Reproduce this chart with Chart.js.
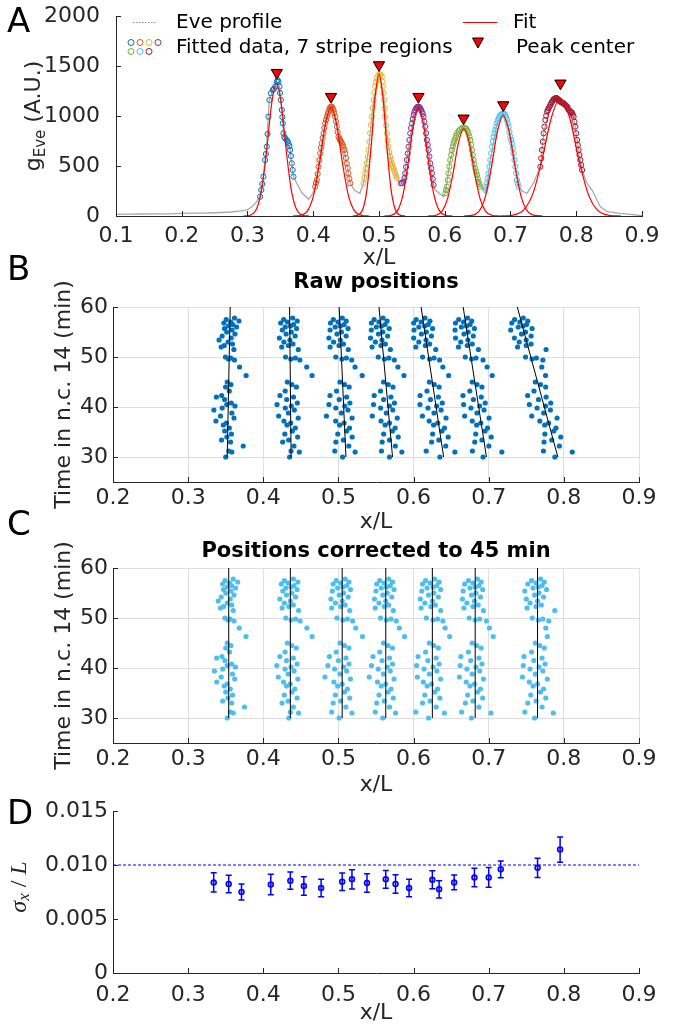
<!DOCTYPE html>
<html>
<head>
<meta charset="utf-8">
<title>Eve stripe positions</title>
<script src="https://cdn.jsdelivr.net/npm/chart.js@4.4.1/dist/chart.umd.min.js"></script>
<style>
  body { margin: 0; background: #fff; }
  #page { position: relative; width: 676px; height: 1031px; overflow: hidden; }
  canvas { position: absolute; left: 0; }
  .letter { position: absolute; font-family: 'DejaVu Sans', sans-serif; font-size: 34px; line-height: 34px; color: #000; }
</style>
</head>
<body>
<div id="page">
  <canvas id="chartA" width="676" height="271" style="top:0px"></canvas>
  <canvas id="chartB" width="676" height="264" style="top:271px"></canvas>
  <canvas id="chartC" width="676" height="263" style="top:535px"></canvas>
  <canvas id="chartD" width="676" height="231" style="top:795px"></canvas>
  <div class="letter" style="left:7px;top:3px">A</div>
  <div class="letter" style="left:7px;top:251px">B</div>
  <div class="letter" style="left:7px;top:506px">C</div>
  <div class="letter" style="left:7px;top:795px">D</div>
</div>
<script>
// ---- panel A: Eve profile (x/L, A.U.) ----
var profile = [
  [0.100, 17], [0.120, 18], [0.140, 20], [0.160, 22], [0.180, 22], [0.200, 27], [0.220, 28], [0.240, 30],
  [0.260, 35], [0.275, 40], [0.290, 52], [0.299, 62], [0.307, 92], [0.314, 143], [0.319, 193], [0.324, 393],
  [0.329, 693], [0.333, 1160], [0.3385, 1260], [0.3446, 1343], [0.3486, 1293], [0.3522, 1060], [0.3547, 827],
  [0.3598, 760], [0.3648, 660], [0.3699, 393], [0.375, 327], [0.383, 230], [0.393, 167], [0.399, 220],
  [0.4029, 293], [0.4105, 627], [0.4181, 927], [0.4257, 1087], [0.4283, 1093], [0.4333, 993], [0.4384, 793],
  [0.446, 693], [0.4511, 527], [0.4562, 327], [0.463, 255], [0.471, 227], [0.4764, 327], [0.4841, 660],
  [0.4917, 1160], [0.5008, 1420], [0.5079, 1160], [0.512, 827], [0.517, 593], [0.5247, 427], [0.530, 350],
  [0.5373, 343], [0.545, 693], [0.5526, 1010], [0.5601, 1093], [0.5677, 993], [0.5753, 660], [0.583, 310],
  [0.5855, 260], [0.598, 193], [0.6008, 227], [0.6084, 560], [0.6186, 827], [0.6286, 883], [0.6362, 827],
  [0.6438, 560], [0.649, 410], [0.654, 293], [0.663, 243], [0.6693, 560], [0.6795, 927], [0.6886, 1027],
  [0.6971, 893], [0.7047, 627], [0.7123, 293], [0.718, 250], [0.725, 227], [0.735, 330], [0.7454, 493],
  [0.7504, 827], [0.7606, 1110], [0.7708, 1177], [0.786, 1093], [0.796, 993], [0.8036, 660], [0.8088, 460],
  [0.8164, 327], [0.824, 260], [0.8316, 160], [0.8367, 93], [0.847, 43], [0.867, 27], [0.8824, 17], [0.900, 3]
];

var fitted1 = [
  [0.3192,193],[0.3210,260],[0.3225,320],[0.3242,393],[0.3268,560],[0.3280,620],[0.3293,693],[0.3305,820],
  [0.3318,993],[0.3333,1160],[0.3355,1227],[0.3385,1260],[0.3400,1270],[0.3420,1293],[0.3446,1343],[0.3458,1360],
  [0.3470,1343],[0.3486,1293],[0.3495,1230],[0.3507,1160],[0.3522,1060],[0.3530,990],[0.3537,927],[0.3547,827],
  [0.3560,790],[0.3572,777],[0.3598,760],[0.3610,745],[0.3623,727],[0.3636,700],[0.3648,660],[0.3660,600],
  [0.3674,527],[0.3687,460],[0.3699,393]
];
var fitted2 = [
  [0.4029,293],[0.4054,360],[0.4080,493],[0.4105,627],[0.4130,727],[0.4156,827],[0.4181,927],[0.4207,993],
  [0.4232,1043],[0.4257,1087],[0.4283,1093],[0.4308,1060],[0.4333,993],[0.4359,893],[0.4384,793],[0.4409,760],
  [0.4435,727],[0.4460,693],[0.4486,627],[0.4511,527],[0.4536,427],[0.4562,327],
  [0.4042,330],[0.4067,420],[0.4092,560],[0.4118,680],[0.4143,780],[0.4168,880],[0.4194,960],[0.4220,1020],
  [0.4245,1070],[0.4270,1092],[0.4296,1080],[0.4320,1030],[0.4346,945],[0.4371,840],[0.4397,775],[0.4422,745],
  [0.4448,710],[0.4473,660],[0.4498,580],[0.4524,480],[0.4549,375]
];
var fitted3 = [
  [0.4764,327],[0.4790,427],[0.4816,527],[0.4841,660],[0.4866,827],[0.4892,993],[0.4917,1160],[0.4942,1293],
  [0.4968,1377],[0.5008,1420],[0.5044,1393],[0.5059,1293],[0.5079,1160],[0.5094,993],[0.5120,827],[0.5145,693],
  [0.5170,593],[0.5196,527],[0.5221,477],[0.5247,427],[0.5272,377],
  [0.4777,380],[0.4803,475],[0.4828,590],[0.4854,740],[0.4879,910],[0.4904,1080],[0.4930,1230],[0.4955,1340],
  [0.4988,1405],[0.5026,1412],[0.5052,1345],[0.5069,1230],[0.5087,1075],[0.5107,905],[0.5132,755],[0.5158,640],
  [0.5183,558],[0.5208,500],[0.5234,452],[0.5260,400]
];
var fitted4 = [
  [0.5333,327],[0.5373,343],[0.5399,427],[0.5425,560],[0.5450,693],[0.5475,827],[0.5501,927],[0.5526,1010],
  [0.5551,1060],[0.5577,1087],[0.5601,1093],[0.5627,1077],[0.5653,1043],[0.5677,993],[0.5703,893],[0.5729,760],
  [0.5753,660],[0.5779,527],[0.5805,427],[0.5830,310],
  [0.5353,330],[0.5386,380],[0.5412,490],[0.5438,625],[0.5463,760],[0.5488,880],[0.5514,970],[0.5539,1038],
  [0.5564,1075],[0.5589,1092],[0.5614,1088],[0.5640,1062],[0.5665,1020],[0.5690,945],[0.5716,828],[0.5741,710],
  [0.5766,595],[0.5792,477],[0.5818,370]
];
var fitted5 = [
  [0.6008,227],[0.6033,293],[0.6058,427],[0.6084,560],[0.6110,660],[0.6134,727],[0.6160,777],[0.6186,827],
  [0.6236,867],[0.6286,883],[0.6327,873],[0.6362,827],[0.6388,760],[0.6414,660],[0.6438,560],[0.6464,477],
  [0.6490,410],[0.6514,343],[0.6540,293],
  [0.6020,260],[0.6046,360],[0.6071,495],[0.6097,612],[0.6122,695],[0.6147,752],[0.6173,802],[0.6211,850],
  [0.6261,878],[0.6306,880],[0.6345,852],[0.6375,795],[0.6401,712],[0.6426,610],[0.6451,518],[0.6477,443],
  [0.6502,376],[0.6527,318]
];
var fitted6 = [
  [0.6616,260],[0.6642,327],[0.6667,427],[0.6693,560],[0.6718,693],[0.6743,793],[0.6769,860],[0.6795,927],
  [0.6819,977],[0.6845,1010],[0.6886,1027],[0.6921,1010],[0.6947,960],[0.6971,893],[0.6997,793],[0.7023,727],
  [0.7047,627],[0.7073,493],[0.7098,360],[0.7123,293],
  [0.6629,293],[0.6655,377],[0.6680,493],[0.6706,627],[0.6731,745],[0.6756,827],[0.6782,893],[0.6807,952],
  [0.6832,995],[0.6865,1020],[0.6904,1022],[0.6934,987],[0.6959,928],[0.6984,843],[0.7010,760],[0.7035,677],
  [0.7060,560],[0.7086,427],[0.7110,326]
];
var fitted7 = [
  [0.7454,493],[0.7479,660],[0.7504,827],[0.7530,960],[0.7556,1043],[0.7580,1077],[0.7606,1110],[0.7632,1143],
  [0.7656,1167],[0.7682,1177],[0.7708,1177],[0.7732,1160],[0.7758,1143],[0.7784,1133],[0.7808,1127],[0.7834,1110],
  [0.7860,1093],[0.7885,1060],[0.7910,1043],[0.7936,1033],[0.7960,993],[0.7986,893],[0.8012,760],[0.8036,660],
  [0.8062,560],[0.8088,460],
  [0.7466,577],[0.7492,743],[0.7517,893],[0.7543,1002],[0.7568,1060],[0.7593,1093],[0.7619,1127],[0.7644,1155],
  [0.7669,1172],[0.7695,1180],[0.7720,1168],[0.7745,1150],[0.7771,1138],[0.7796,1130],[0.7821,1118],[0.7847,1102],
  [0.7872,1077],[0.7898,1052],[0.7923,1038],[0.7948,1013],[0.7973,943],[0.7999,827],[0.8024,710],[0.8049,610],
  [0.8075,510]
];

// red fit curves
var fitCurve1 = [[0.294,0],[0.304,8],[0.314,74],[0.3215,263],[0.329,648],[0.3365,1111],[0.344,1330],[0.3515,1111],[0.359,648],[0.3665,263],[0.374,74],[0.384,8],[0.394,0]];
var fitCurve2 = [[0.369,0],[0.3806,7],[0.3922,61],[0.4009,216],[0.4096,531],[0.4183,910],[0.427,1090],[0.4357,910],[0.4444,531],[0.4531,216],[0.4618,61],[0.4734,7],[0.485,0]];
var fitCurve3 = [[0.460,0],[0.468,9],[0.476,80],[0.482,281],[0.488,692],[0.494,1186],[0.500,1420],[0.506,1186],[0.512,692],[0.518,281],[0.524,80],[0.532,9],[0.540,0]];
var fitCurve4 = [[0.508,0],[0.5184,7],[0.5288,61],[0.5366,216],[0.5444,531],[0.5522,910],[0.560,1090],[0.5678,910],[0.5756,531],[0.5834,216],[0.5912,61],[0.6016,7],[0.612,0]];
var fitCurve5 = [[0.5742,0],[0.5852,5],[0.5961,49],[0.6043,173],[0.6126,426],[0.6208,731],[0.629,875],[0.6372,731],[0.6454,426],[0.6537,173],[0.6619,49],[0.6728,5],[0.6838,0]];
var fitCurve6 = [[0.629,0],[0.641,6],[0.653,56],[0.662,199],[0.671,489],[0.680,839],[0.689,1005],[0.698,839],[0.707,489],[0.716,199],[0.725,56],[0.737,6],[0.749,0]];
var fitCurve7 = [[0.684,0],[0.7024,7],[0.7208,66],[0.7346,234],[0.7484,575],[0.7622,985],[0.776,1180],[0.7898,985],[0.8036,575],[0.8174,234],[0.8312,66],[0.8496,7],[0.868,0]];

var peakX = [0.3446, 0.427, 0.500, 0.560, 0.6286, 0.689, 0.776];
var peakMarkY = [1433, 1193, 1510, 1193, 977, 1110, 1327];

var stripeColors = ['#0072BD', '#D95319', '#EDB120', '#7E2F8E', '#77AC30', '#4DBEEE', '#A2142F'];

// ---- panels B and C: stripe positions per embryo time ----
var embryoTimes = [57.8, 57.5, 57.2, 57.0, 56.8, 56.5, 56.2, 56.0, 55.7, 55.4, 55.0, 54.6, 54.2, 53.8, 53.4, 53.0, 52.6, 52.3,
  52.0, 51.5, 50.0, 49.8, 49.6, 49.4, 48.0, 46.3, 45.0, 44.5, 44.0, 43.2, 42.3, 42.0, 41.5, 40.8, 40.5, 40.2, 39.8, 39.4,
  38.8, 38.2, 37.8, 37.2, 36.8, 36.4, 35.8, 35.2, 34.6, 34.0, 33.4, 33.0, 32.2, 31.2, 31.0, 30.0];

// positions corrected to 45 min (panel C)
var stripe1Pos = [0.360,0.349,0.366,0.355,0.346,0.358,0.352,0.363,0.347,0.357,0.350,0.361,0.344,0.356,0.340,0.352,0.358,0.347,0.343,0.360,0.349,0.356,0.353,0.361,0.368,0.377,0.352,0.357,0.350,0.355,0.345,0.338,0.349,0.358,0.352,0.363,0.346,0.335,0.359,0.344,0.362,0.338,0.352,0.348,0.356,0.350,0.359,0.353,0.346,0.358,0.375,0.356,0.360,0.352];
var stripe2Pos = [0.440,0.428,0.446,0.433,0.424,0.441,0.437,0.430,0.445,0.426,0.438,0.431,0.443,0.422,0.436,0.428,0.440,0.434,0.425,0.447,0.430,0.443,0.437,0.449,0.458,0.465,0.432,0.438,0.444,0.429,0.422,0.440,0.431,0.445,0.418,0.437,0.429,0.441,0.433,0.420,0.446,0.427,0.436,0.431,0.442,0.438,0.428,0.445,0.433,0.425,0.440,0.436,0.447,0.434];
var stripe3Pos = [0.509,0.497,0.514,0.503,0.493,0.511,0.506,0.499,0.516,0.492,0.507,0.501,0.513,0.490,0.505,0.496,0.509,0.503,0.491,0.515,0.498,0.512,0.506,0.519,0.523,0.532,0.502,0.508,0.514,0.497,0.488,0.510,0.500,0.514,0.486,0.507,0.495,0.511,0.502,0.482,0.516,0.494,0.505,0.499,0.512,0.508,0.496,0.515,0.503,0.493,0.510,0.491,0.518,0.501];
var stripe4Pos = [0.567,0.555,0.572,0.561,0.551,0.569,0.564,0.557,0.574,0.550,0.565,0.559,0.571,0.548,0.563,0.554,0.567,0.561,0.549,0.573,0.556,0.570,0.564,0.577,0.581,0.588,0.560,0.566,0.572,0.555,0.546,0.568,0.558,0.572,0.544,0.565,0.553,0.569,0.560,0.541,0.574,0.552,0.563,0.557,0.570,0.566,0.554,0.573,0.561,0.551,0.568,0.549,0.576,0.559];
var stripe5Pos = [0.628,0.616,0.634,0.622,0.612,0.631,0.626,0.618,0.636,0.611,0.627,0.620,0.633,0.609,0.625,0.615,0.629,0.623,0.610,0.636,0.617,0.632,0.626,0.639,0.642,0.648,0.621,0.627,0.633,0.616,0.606,0.630,0.619,0.634,0.604,0.626,0.614,0.631,0.621,0.605,0.636,0.613,0.624,0.618,0.632,0.628,0.615,0.635,0.622,0.612,0.630,0.603,0.641,0.620];
var stripe6Pos = [0.685,0.673,0.690,0.679,0.668,0.687,0.682,0.675,0.692,0.666,0.683,0.677,0.689,0.665,0.681,0.671,0.686,0.679,0.667,0.693,0.674,0.688,0.682,0.697,0.701,0.706,0.678,0.684,0.690,0.673,0.663,0.687,0.676,0.691,0.662,0.683,0.671,0.688,0.678,0.661,0.693,0.670,0.681,0.675,0.689,0.685,0.672,0.692,0.679,0.669,0.687,0.664,0.703,0.677];
var stripe7Pos = [0.769,0.757,0.774,0.763,0.752,0.771,0.766,0.759,0.777,0.748,0.767,0.761,0.773,0.750,0.765,0.755,0.770,0.763,0.751,0.788,0.758,0.772,0.766,0.780,0.776,0.778,0.762,0.768,0.774,0.757,0.747,0.771,0.760,0.775,0.746,0.767,0.755,0.772,0.762,0.745,0.778,0.754,0.765,0.759,0.773,0.769,0.756,0.776,0.763,0.752,0.771,0.748,0.786,0.761];

// fitted drift lines in panel B (x/L at t = 60 and t = 30), and stripe centres at 45 min
var lineAt60 = [0.356, 0.435, 0.501, 0.554, 0.610, 0.666, 0.738];
var lineAt30 = [0.352, 0.437, 0.510, 0.572, 0.640, 0.697, 0.792];
var centreAt45 = [0.354, 0.436, 0.505, 0.563, 0.625, 0.682, 0.765];

// ---- panel D: positional error sigma_x / L ----
var sigmaX = [0.334, 0.354, 0.371, 0.410, 0.436, 0.454, 0.477, 0.505, 0.518, 0.538, 0.563, 0.576, 0.594, 0.625, 0.634, 0.654, 0.681, 0.700, 0.716, 0.765, 0.795];
var sigmaY = [0.00839, 0.00824, 0.00750, 0.00820, 0.00855, 0.00805, 0.00787, 0.00845, 0.00867, 0.00833, 0.00867, 0.00824, 0.00787, 0.00864, 0.00775, 0.00839, 0.00885, 0.00885, 0.00960, 0.00974, 0.01143];
var sigmaErr = [0.00089, 0.00080, 0.00074, 0.00095, 0.00080, 0.00086, 0.00080, 0.00080, 0.00089, 0.00086, 0.00083, 0.00086, 0.00080, 0.00083, 0.00080, 0.00068, 0.00086, 0.00092, 0.00077, 0.00089, 0.00117];
var sigmaRef = 0.01;

var AXIS_COLOR = '#262626';
Chart.defaults.font.family = "'DejaVu Sans', sans-serif";
Chart.defaults.color = AXIS_COLOR;
Chart.defaults.animation = false;

function pts(pairs) {
    return pairs.map(function (p) { return { x: p[0], y: p[1] }; });
}

// fixed box sizes so every plot area lands where it does in the figure;
// the label gap is an invisible tick so it does not push the plot area down
function axis(o) {
    return {
        type: 'linear',
        min: o.min, max: o.max,
        afterFit: function (scale) {
            if (scale.isHorizontal()) scale.height = o.box; else scale.width = o.box;
        },
        ticks: {
            stepSize: o.step, includeBounds: false, padding: 0,
            font: { size: 22 }, color: AXIS_COLOR,
            maxRotation: 0, autoSkip: false,
            callback: o.fmt
        },
        grid: {
            display: true, drawTicks: true, tickLength: o.pad, tickColor: 'rgba(0,0,0,0)',
            drawOnChartArea: !!o.grid, color: '#dedede', lineWidth: 1
        },
        border: { display: true, color: AXIS_COLOR, width: 1 },
        title: o.title ? { display: true, text: o.title, font: { size: 22 }, color: AXIS_COLOR, padding: o.titlePad || 0 } : { display: false }
    };
}

var inwardTicks = {
    id: 'inwardTicks',
    afterDatasetsDraw: function (chart) {
        var ctx = chart.ctx, a = chart.chartArea;
        var xs = chart.scales.x, ys = chart.scales.y;
        ctx.save();
        ctx.strokeStyle = AXIS_COLOR;
        ctx.lineWidth = 1;
        ctx.beginPath();
        xs.ticks.forEach(function (t) {
            var p = Math.round(xs.getPixelForValue(t.value)) + 0.5;
            ctx.moveTo(p, a.bottom); ctx.lineTo(p, a.bottom - 5);
        });
        ys.ticks.forEach(function (t) {
            var p = Math.round(ys.getPixelForValue(t.value)) + 0.5;
            ctx.moveTo(a.left, p); ctx.lineTo(a.left + 5, p);
        });
        ctx.stroke();
        ctx.restore();
    }
};

function titlePlugin(text, y) {
    return {
        id: 'panelTitle',
        afterDraw: function (chart) {
            var ctx = chart.ctx, a = chart.chartArea;
            ctx.save();
            ctx.font = "bold 21px 'DejaVu Sans'";
            ctx.fillStyle = '#000';
            ctx.textAlign = 'center';
            ctx.textBaseline = 'middle';
            ctx.fillText(text, (a.left + a.right) / 2, y);
            ctx.restore();
        }
    };
}

var baseOptions = function (pad, scales) {
    return {
        responsive: false,
        events: [],
        layout: { padding: pad },
        plugins: { legend: { display: false }, tooltip: { enabled: false } },
        scales: scales
    };
};

// ---------- A ----------
var fittedSets = [fitted1, fitted2, fitted3, fitted4, fitted5, fitted6, fitted7];
var fitCurves = [fitCurve1, fitCurve2, fitCurve3, fitCurve4, fitCurve5, fitCurve6, fitCurve7];

var datasetsA = [{
    data: pts(profile), showLine: true, borderColor: '#a8a8a8', borderWidth: 1.3,
    pointRadius: 0, order: 4
}];
fittedSets.forEach(function (d, k) {
    datasetsA.push({
        data: pts(d), showLine: false, pointStyle: 'circle', pointRadius: 2.6,
        borderWidth: 1, borderColor: stripeColors[k], backgroundColor: 'rgba(0,0,0,0)', order: 3
    });
});
fitCurves.forEach(function (d) {
    datasetsA.push({
        data: pts(d), showLine: true, borderColor: '#ff0000', borderWidth: 1.2,
        pointRadius: 0, cubicInterpolationMode: 'monotone', order: 2
    });
});
datasetsA.push({
    data: peakX.map(function (x, i) { return { x: x, y: peakMarkY[i] }; }),
    showLine: false, pointStyle: 'triangle', rotation: 180, pointRadius: 6.5,
    backgroundColor: '#ff0000', borderColor: '#000', borderWidth: 1, order: 1
});

var panelAText = {
    id: 'panelAText',
    afterDraw: function (chart) {
        var ctx = chart.ctx, a = chart.chartArea;
        // y label g_Eve (A.U.)
        ctx.save();
        ctx.translate(34, (a.top + a.bottom) / 2);
        ctx.rotate(-Math.PI / 2);
        ctx.fillStyle = AXIS_COLOR;
        ctx.textBaseline = 'middle';
        var big = "22px 'DejaVu Sans'", small = "15px 'DejaVu Sans'";
        ctx.font = big;
        var wg = ctx.measureText('g').width, wr = ctx.measureText(' (A.U.)').width;
        ctx.font = small;
        var ws = ctx.measureText('Eve').width;
        var x0 = -(wg + ws + wr) / 2;
        ctx.font = big; ctx.fillText('g', x0, 0);
        ctx.font = small; ctx.fillText('Eve', x0 + wg, 7);
        ctx.font = big; ctx.fillText(' (A.U.)', x0 + wg + ws, 0);
        ctx.restore();

        // legend
        ctx.save();
        ctx.font = "20px 'DejaVu Sans'";
        ctx.fillStyle = '#000';
        ctx.textBaseline = 'middle';
        ctx.fillText('Eve profile', 176, 23);
        ctx.fillText('Fitted data, 7 stripe regions', 176, 48);
        ctx.fillText('Fit', 513, 23);
        ctx.fillText('Peak center', 516, 48);

        ctx.strokeStyle = '#8c8c8c';
        ctx.lineWidth = 1;
        ctx.setLineDash([1.5, 1.5]);
        ctx.beginPath(); ctx.moveTo(133, 22.5); ctx.lineTo(156, 22.5); ctx.stroke();
        ctx.setLineDash([]);
        ctx.strokeStyle = '#ff0000';
        ctx.lineWidth = 1.2;
        ctx.beginPath(); ctx.moveTo(463, 22.5); ctx.lineTo(497, 22.5); ctx.stroke();

        var icon = [[131, 42.5], [140, 42.5], [149, 42.5], [158, 42.5], [131, 51.5], [140, 51.5], [149, 51.5]];
        ctx.lineWidth = 1;
        icon.forEach(function (p, k) {
            ctx.strokeStyle = stripeColors[k];
            ctx.beginPath(); ctx.arc(p[0], p[1], 3, 0, Math.PI * 2); ctx.stroke();
        });

        ctx.fillStyle = '#ff0000';
        ctx.strokeStyle = '#000';
        ctx.beginPath();
        ctx.moveTo(472.5, 38); ctx.lineTo(483.5, 38); ctx.lineTo(478, 48); ctx.closePath();
        ctx.fill(); ctx.stroke();
        ctx.restore();
    }
};

new Chart('chartA', {
    type: 'scatter',
    data: { datasets: datasetsA },
    options: baseOptions({ top: 16, right: 34, left: 0, bottom: 0 }, {
        x: axis({ min: 0.1, max: 0.9, step: 0.1, box: 55, pad: 7, fmt: function (v) { return v.toFixed(1); }, title: 'x/L' }),
        y: axis({ min: 0, max: 2000, step: 500, box: 116, pad: 16, fmt: function (v) { return String(v); } })
    }),
    plugins: [inwardTicks, panelAText]
});

// ---------- B and C ----------
var stripePositions = [stripe1Pos, stripe2Pos, stripe3Pos, stripe4Pos, stripe5Pos, stripe6Pos, stripe7Pos];
// drift of each stripe (x/L per minute), from the fitted lines of panel B
var stripeDrift = lineAt60.map(function (v, k) { return (v - lineAt30[k]) / 30; });

function stripeCharts(id, raw, color, titleText, titleY, pad, xBox) {
    var ds = [];
    stripePositions.forEach(function (pos, k) {
        ds.push({
            data: pos.map(function (x, i) {
                var t = embryoTimes[i];
                return { x: raw ? x + stripeDrift[k] * (t - 45) : x, y: t };
            }),
            showLine: false, pointRadius: 2.6, borderWidth: 0,
            backgroundColor: color, order: 2
        });
        ds.push({
            data: raw ? [{ x: lineAt30[k], y: 30 }, { x: lineAt60[k], y: 60 }]
                      : [{ x: centreAt45[k], y: 30 }, { x: centreAt45[k], y: 60 }],
            showLine: true, borderColor: '#000', borderWidth: 1, pointRadius: 0, order: 1
        });
    });
    new Chart(id, {
        type: 'scatter',
        data: { datasets: ds },
        options: baseOptions(pad, {
            x: axis({ min: 0.2, max: 0.9, step: 0.1, box: xBox, pad: 3.5, grid: true, fmt: function (v) { return v.toFixed(1); }, title: 'x/L' }),
            y: axis({ min: 25, max: 60, step: 10, box: 113, pad: 5, grid: true, fmt: function (v) { return String(v); },
                      title: 'Time in n.c. 14 (min)', titlePad: { top: 51, bottom: 0 } })
        }),
        plugins: [inwardTicks, titlePlugin(titleText, titleY)]
    });
}

stripeCharts('chartB', true, '#0072BD', 'Raw positions', 12, { top: 36, right: 37, left: 0, bottom: 0 }, 53);
stripeCharts('chartC', false, '#4DBEEE', 'Positions corrected to 45 min', 17, { top: 33, right: 37, left: 0, bottom: 0 }, 55);

// ---------- D ----------
var errorBars = {
    id: 'errorBars',
    afterDatasetsDraw: function (chart) {
        var ctx = chart.ctx, xs = chart.scales.x, ys = chart.scales.y;
        ctx.save();
        ctx.strokeStyle = '#0000ff';
        ctx.lineWidth = 1.5;
        sigmaX.forEach(function (xv, i) {
            var px = xs.getPixelForValue(xv);
            var top = ys.getPixelForValue(sigmaY[i] + sigmaErr[i]);
            var bot = ys.getPixelForValue(sigmaY[i] - sigmaErr[i]);
            ctx.beginPath();
            ctx.moveTo(px, top); ctx.lineTo(px, bot);
            ctx.moveTo(px - 3, top); ctx.lineTo(px + 3, top);
            ctx.moveTo(px - 3, bot); ctx.lineTo(px + 3, bot);
            ctx.stroke();
        });
        ctx.restore();
    }
};

var panelDText = {
    id: 'panelDText',
    afterDraw: function (chart) {
        var ctx = chart.ctx, a = chart.chartArea;
        ctx.save();
        ctx.translate(20, (a.top + a.bottom) / 2 - 5);
        ctx.rotate(-Math.PI / 2);
        ctx.fillStyle = AXIS_COLOR;
        ctx.textBaseline = 'middle';
        var it = "italic 24px 'Liberation Serif'", sub = "italic 17px 'Liberation Serif'", up = "24px 'Liberation Serif'";
        var parts = [['σ', it, 0], ['x', sub, 5], [' / ', up, 0], ['L', it, 0]];
        var total = 0;
        parts.forEach(function (p) { ctx.font = p[1]; p.push(ctx.measureText(p[0]).width); total += p[3]; });
        var x = -total / 2;
        parts.forEach(function (p) { ctx.font = p[1]; ctx.fillText(p[0], x, p[2]); x += p[3]; });
        ctx.restore();
    }
};

new Chart('chartD', {
    type: 'scatter',
    data: {
        datasets: [{
            data: sigmaX.map(function (x, i) { return { x: x, y: sigmaY[i] }; }),
            showLine: false, pointStyle: 'circle', pointRadius: 2.5, borderWidth: 1.5,
            borderColor: '#0000ff', backgroundColor: 'rgba(0,0,255,0.25)', order: 1
        }, {
            data: [{ x: 0.2, y: sigmaRef }, { x: 0.9, y: sigmaRef }],
            showLine: true, borderColor: '#0000ff', borderWidth: 1.2, borderDash: [3, 2],
            pointRadius: 0, order: 2
        }]
    },
    options: baseOptions({ top: 16, right: 37, left: 0, bottom: 0 }, {
        x: axis({ min: 0.2, max: 0.9, step: 0.1, box: 53, pad: 9, fmt: function (v) { return v.toFixed(1); }, title: 'x/L' }),
        y: axis({ min: 0, max: 0.015, step: 0.005, box: 113, pad: 5, fmt: function (v) { return v === 0 ? '0' : v.toFixed(3); } })
    }),
    plugins: [inwardTicks, errorBars, panelDText]
});
</script>
</body>
</html>
